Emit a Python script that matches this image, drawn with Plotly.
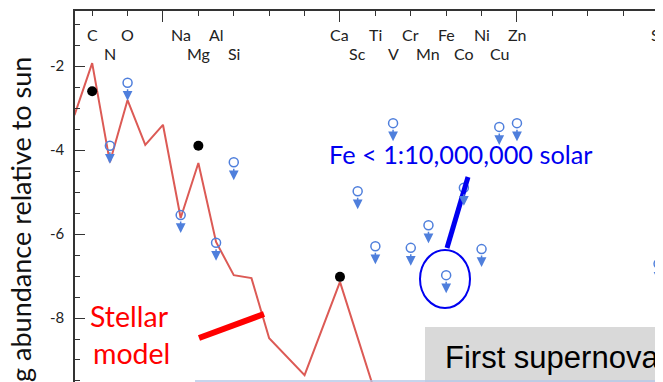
import plotly.graph_objects as go

# ---- data ----
model_Z = [5, 6, 7, 8, 9, 10, 11, 12, 13, 14, 15, 16, 18, 20, 22]
model_vals = [-3.17, -1.93, -4.29, -2.81, -3.88, -3.40, -5.62, -4.31, -6.19, -6.98, -7.05, -8.48, -9.36, -7.14, -9.80]

det_Z = [6, 12, 20]
det_vals = [-2.60, -3.90, -7.02]

lim_elems = ["N", "O", "Na", "Al", "Si", "Sc", "Ti", "V", "Cr", "Mn", "Fe", "Co", "Ni", "Cu", "Zn", "Sr"]
lim_Z = [7, 8, 11, 13, 14, 21, 22, 23, 24, 25, 26, 27, 28, 29, 30, 38]
lim_vals = [-3.90, -2.40, -5.55, -6.21, -4.29, -4.98, -6.29, -3.36, -6.33, -5.79, -6.98, -4.90, -6.36, -3.45, -3.36, -6.71]

upper_labels = ["C", "O", "Na", "Al", "Ca", "Ti", "Cr", "Fe", "Ni", "Zn", "Sr"]
upper_Z = [6, 8, 11, 13, 20, 22, 24, 26, 28, 30, 38]
lower_labels = ["N", "Mg", "Si", "Sc", "V", "Mn", "Co", "Cu"]
lower_Z = [7, 12, 14, 21, 23, 25, 27, 29]

y_tickvals = [-2, -4, -6, -8]
y_ticktext = ["-2", "-4", "-6", "-8"]

# ---- layout geometry (page pixels; the page body has an 8px margin) ----
W_IMG, H_IMG = 663, 382
OFF = 8
L, T = 75, 11
PW, PH = W_IMG - L, H_IMG - T


def px(x):
    return (x - L) / PW


def py(y):
    return (H_IMG - y) / PH


LIM_BLUE = "#4f7fdc"
RED_LINE = "#dc5a55"
CAL = "Lato"

fig = go.Figure()

fig.add_trace(go.Scatter(x=model_Z, y=model_vals, mode="lines",
                         line=dict(color=RED_LINE, width=2), hoverinfo="skip"))
fig.add_trace(go.Scatter(x=lim_Z, y=lim_vals, mode="markers", text=lim_elems,
                         marker=dict(symbol="circle-open", size=9, color=LIM_BLUE,
                                     line=dict(width=1.5, color=LIM_BLUE))))
fig.add_trace(go.Scatter(x=det_Z, y=det_vals, mode="markers",
                         marker=dict(symbol="circle", size=10, color="black")))

annotations = []
for z, v in zip(lim_Z, lim_vals):
    annotations.append(dict(x=z, y=v, xref="x", yref="y", text="", showarrow=True,
                            ax=0, ay=-13, axref="pixel", ayref="pixel",
                            arrowhead=2, arrowsize=1.3, arrowwidth=1.5,
                            arrowcolor=LIM_BLUE, yshift=-18))

for lab, z in zip(upper_labels, upper_Z):
    annotations.append(dict(x=z, y=1, xref="x", yref="paper", text=lab, showarrow=False,
                            xanchor="center", yanchor="middle", yshift=-23,
                            font=dict(family=CAL, size=16, color="#222")))
for lab, z in zip(lower_labels, lower_Z):
    annotations.append(dict(x=z, y=1, xref="x", yref="paper", text=lab, showarrow=False,
                            xanchor="center", yanchor="middle", yshift=-42,
                            font=dict(family=CAL, size=16, color="#222")))

annotations += [
    dict(x=px(20), y=py(55), xref="paper", yref="paper", text="log abundance relative to sun",
         textangle=-90, showarrow=False, xanchor="center", yanchor="top",
         font=dict(family=CAL, size=27, color="#111")),
    dict(x=px(327), y=py(154), xref="paper", yref="paper", text="Fe < 1:10,000,000 solar",
         showarrow=False, xanchor="left", yanchor="middle",
         font=dict(family=CAL, size=25.3, color="#0000f0")),
    dict(x=px(129), y=py(316), xref="paper", yref="paper", text="Stellar",
         showarrow=False, xanchor="center", yanchor="middle",
         font=dict(family=CAL, size=28.5, color="#ff0000")),
    dict(x=px(131), y=py(353), xref="paper", yref="paper", text="model",
         showarrow=False, xanchor="center", yanchor="middle",
         font=dict(family=CAL, size=28.5, color="#ff0000")),
    dict(x=px(443), y=py(357), xref="paper", yref="paper", text="First supernova",
         showarrow=False, xanchor="left", yanchor="middle",
         font=dict(family="Liberation Sans", size=31, color="black")),
]

shapes = [
    dict(type="rect", xref="paper", yref="paper", x0=px(425), x1=px(670), y0=py(327), y1=py(390),
         fillcolor="#d9d9d9", line=dict(width=0), layer="below"),
    dict(type="line", xref="paper", yref="paper", x0=px(195), x1=px(670), y0=py(381), y1=py(381),
         line=dict(color="#b4c7e7", width=1.5)),
    dict(type="line", xref="paper", yref="paper", x0=px(199), y0=py(338), x1=px(264), y1=py(314),
         line=dict(color="#ff0000", width=6)),
    dict(type="line", xref="paper", yref="paper", x0=px(447), y0=py(248), x1=px(468), y1=py(177),
         line=dict(color="#0000f0", width=5)),
    dict(type="circle", xref="paper", yref="paper", x0=px(420), x1=px(470), y0=py(250), y1=py(308),
         line=dict(color="#0000f0", width=2)),
]

fig.update_layout(
    width=W_IMG - OFF, height=H_IMG - OFF,
    margin=dict(l=L - OFF, r=0, t=T - OFF, b=0, pad=0),
    paper_bgcolor="white", plot_bgcolor="white",
    showlegend=False,
    annotations=annotations, shapes=shapes,
    xaxis=dict(range=[5.03, 38.25], side="top", showgrid=False, zeroline=False,
               showline=True, linecolor="#333", linewidth=1.5, mirror=False,
               ticks="inside", tick0=0, dtick=10, ticklen=11, tickwidth=1.3, tickcolor="#333",
               minor=dict(ticks="inside", dtick=2, tick0=0, ticklen=5, tickwidth=1.3, tickcolor="#333"),
               showticklabels=False),
    yaxis=dict(range=[-9.524, -0.69], showgrid=False, zeroline=False,
               showline=True, linecolor="#333", linewidth=1.5,
               ticks="inside", tickvals=y_tickvals, ticktext=y_ticktext,
               ticklen=10, tickwidth=1.3, tickcolor="#333",
               minor=dict(ticks="inside", dtick=0.5, tick0=0, ticklen=5, tickwidth=1.3, tickcolor="#333"),
               tickfont=dict(family=CAL, size=15, color="#222"), ticklabelstandoff=6),
)

fig.write_html("out.html")
